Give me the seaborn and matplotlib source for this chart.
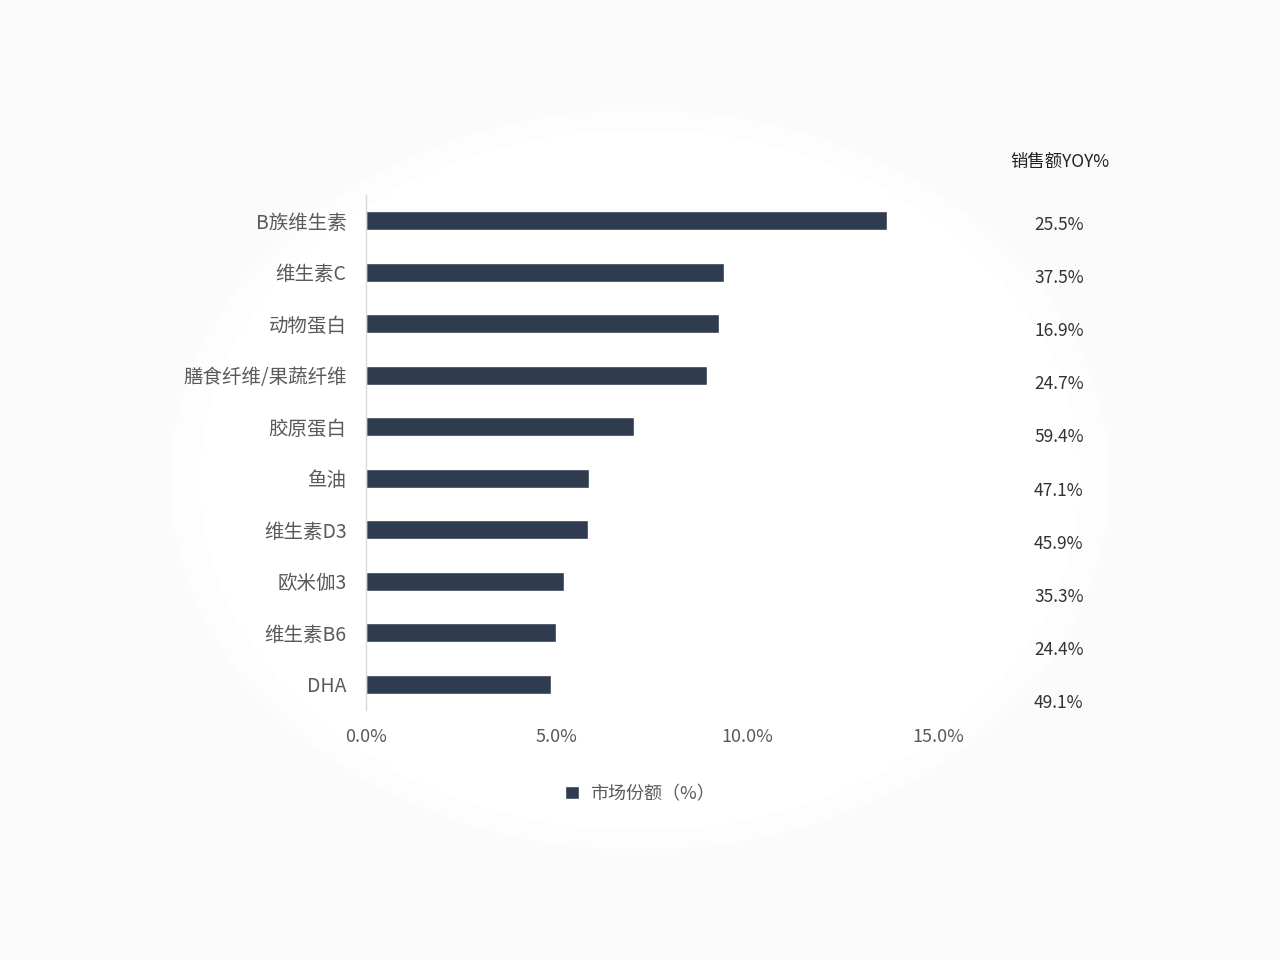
import pandas as pd
import seaborn as sns
import matplotlib.pyplot as plt
import matplotlib.ticker as ticker
from matplotlib.patches import Ellipse

categories = ['B族维生素', '维生素C', '动物蛋白', '膳食纤维/果蔬纤维', '胶原蛋白',
              '鱼油', '维生素D3', '欧米伽3', '维生素B6', 'DHA']
market_share = [13.65, 9.40, 9.26, 8.95, 7.04, 5.84, 5.82, 5.19, 4.99, 4.86]
yoy_labels = ['25.5%', '37.5%', '16.9%', '24.7%', '59.4%',
              '47.1%', '45.9%', '35.3%', '24.4%', '49.1%']

df = pd.DataFrame({'品类': categories, '市场份额': market_share})

sns.set_theme(style='white')
plt.rcParams['font.family'] = ['Noto Sans CJK SC', 'DejaVu Sans']

bar_color = '#2f3b4f'
text_gray = '#5a5a5a'

fig = plt.figure(figsize=(12.8, 9.6), dpi=100, facecolor='#fbfafa')

# faint white glow behind the chart
for w, h, a in [(1000, 780, 0.4), (940, 740, 0.7), (880, 700, 1.0)]:
    fig.patches.append(Ellipse((640 / 1280, 480 / 960), w / 1280, h / 960,
                               transform=fig.transFigure, facecolor='white',
                               edgecolor='none', alpha=a, zorder=-10))

ax = fig.add_axes([366 / 1280, 1 - 710 / 960, (938 - 366) / 1280, (710 - 195) / 960])
ax.set_facecolor('none')
ax.set_zorder(5)

sns.barplot(data=df, x='市场份额', y='品类', orient='h', color=bar_color,
            width=0.36, saturation=1, label='市场份额（%）', ax=ax)

ax.set_xlim(0, 15)
ax.set_ylim(9.5, -0.5)
ax.xaxis.set_major_locator(ticker.MultipleLocator(5))
ax.xaxis.set_major_formatter(ticker.FuncFormatter(lambda x, pos: f'{x:.1f}%'))
ax.set_xlabel('')
ax.set_ylabel('')
ax.tick_params(axis='x', length=0, pad=13, labelsize=13, colors=text_gray)
ax.tick_params(axis='y', length=0, pad=14, labelsize=14, colors=text_gray)

for side in ['top', 'right', 'bottom']:
    ax.spines[side].set_visible(False)
ax.spines['left'].set_color('#d9d9d9')
ax.spines['left'].set_linewidth(1)

leg = ax.legend(loc='center', bbox_to_anchor=(640 / 1280, 1 - 794 / 960),
                bbox_transform=fig.transFigure, frameon=False, fontsize=13,
                handlelength=0.75, handleheight=0.75, handletextpad=0.6)
for t in leg.get_texts():
    t.set_color(text_gray)

# right column with YOY values
ax2 = fig.add_axes([1000 / 1280, 1 - 703 / 960, 120 / 1280, (703 - 225) / 960])
ax2.set_zorder(5)
ax2.set_ylim(len(yoy_labels) - 1, 0)
ax2.set_xlim(0, 1)
ax2.axis('off')
for i, lab in enumerate(yoy_labels):
    ax2.text(0.49, i, lab, ha='center', va='center', fontsize=12.5, color='#333333')

fig.text(1060 / 1280, 1 - 162 / 960, '销售额YOY%', ha='center', va='center',
         fontsize=12.5, color='#222222', fontweight='medium')

fig.savefig('out.png', dpi=100, facecolor=fig.get_facecolor())
